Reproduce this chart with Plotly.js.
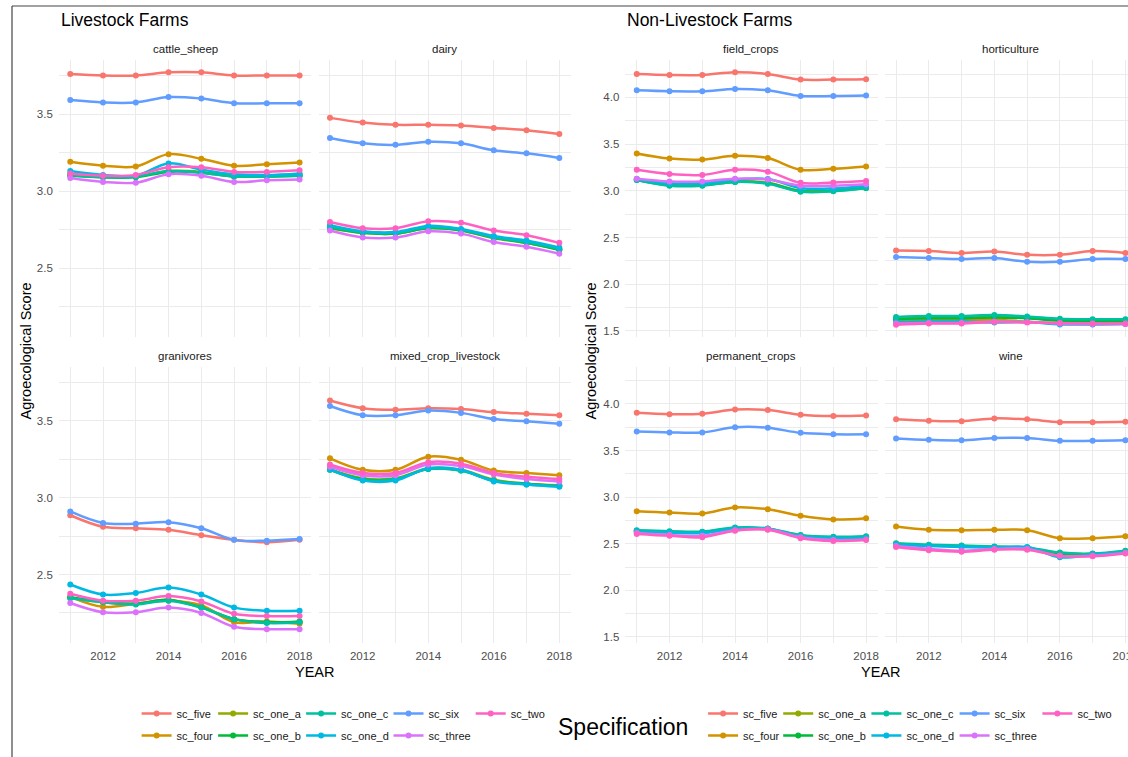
<!DOCTYPE html>
<html><head><meta charset="utf-8">
<script src="https://cdn.plot.ly/plotly-3.0.1.min.js"></script>
<style>html,body{margin:0;padding:0;background:#fff;overflow:hidden}#chart{width:1128px;height:757px}</style>
</head><body><div id="chart"></div>
<script>
// ---------------- DATA ----------------
const years = [2011, 2012, 2013, 2014, 2015, 2016, 2017, 2018];
const series = ['sc_five','sc_four','sc_one_a','sc_one_b','sc_one_c','sc_one_d','sc_six','sc_three','sc_two'];
const livestockFacets = ['cattle_sheep','dairy','granivores','mixed_crop_livestock'];
const nonLivestockFacets = ['field_crops','horticulture','permanent_crops','wine'];
const xTickLabels = ['', '2012', '', '2014', '', '2016', '', '2018'];
const yTicksLivestock = [2.25, 2.5, 2.75, 3.0, 3.25, 3.5, 3.75];
const yTicksNonLivestock = [1.5, 1.75, 2.0, 2.25, 2.5, 2.75, 3.0, 3.25, 3.5, 3.75, 4.0, 4.25];

// rows follow the order of `series`
const cattle_sheep = [
  [3.76,3.75,3.75,3.77,3.77,3.75,3.75,3.75],
  [3.19,3.165,3.16,3.24,3.21,3.165,3.175,3.185],
  [3.11,3.095,3.095,3.13,3.125,3.10,3.10,3.105],
  [3.10,3.09,3.09,3.125,3.12,3.095,3.095,3.10],
  [3.105,3.09,3.095,3.13,3.12,3.095,3.095,3.10],
  [3.13,3.105,3.10,3.18,3.14,3.11,3.105,3.115],
  [3.59,3.575,3.575,3.61,3.60,3.57,3.57,3.57],
  [3.085,3.06,3.055,3.11,3.10,3.06,3.07,3.075],
  [3.115,3.10,3.105,3.155,3.155,3.125,3.125,3.135]
];
const dairy = [
  [3.475,3.445,3.43,3.43,3.425,3.41,3.395,3.37],
  [2.765,2.735,2.73,2.765,2.75,2.70,2.67,2.625],
  [2.76,2.73,2.725,2.76,2.745,2.695,2.665,2.62],
  [2.765,2.73,2.725,2.76,2.745,2.70,2.665,2.62],
  [2.77,2.735,2.73,2.765,2.75,2.70,2.67,2.625],
  [2.78,2.74,2.735,2.775,2.755,2.71,2.68,2.635],
  [3.345,3.31,3.30,3.32,3.31,3.265,3.245,3.215],
  [2.745,2.70,2.70,2.74,2.725,2.67,2.64,2.595],
  [2.80,2.76,2.76,2.805,2.795,2.745,2.715,2.665]
];
const granivores = [
  [2.885,2.81,2.80,2.79,2.755,2.725,2.71,2.725],
  [2.355,2.29,2.31,2.33,2.30,2.19,2.195,2.18],
  [2.35,2.32,2.31,2.335,2.29,2.21,2.19,2.19],
  [2.35,2.325,2.31,2.335,2.285,2.21,2.19,2.195],
  [2.345,2.32,2.305,2.33,2.285,2.21,2.185,2.19],
  [2.435,2.37,2.38,2.415,2.37,2.285,2.265,2.265],
  [2.91,2.835,2.83,2.84,2.80,2.725,2.72,2.73],
  [2.315,2.255,2.255,2.285,2.25,2.16,2.145,2.145],
  [2.375,2.33,2.33,2.36,2.325,2.245,2.23,2.23]
];
const mixed_crop_livestock = [
  [3.63,3.58,3.57,3.58,3.575,3.555,3.545,3.535],
  [3.255,3.18,3.18,3.265,3.245,3.175,3.16,3.145],
  [3.185,3.125,3.125,3.19,3.18,3.115,3.09,3.08],
  [3.18,3.12,3.12,3.185,3.175,3.11,3.09,3.075],
  [3.18,3.115,3.12,3.185,3.175,3.11,3.085,3.075],
  [3.185,3.11,3.11,3.19,3.18,3.105,3.085,3.07],
  [3.595,3.535,3.535,3.565,3.55,3.51,3.495,3.48],
  [3.20,3.145,3.145,3.215,3.205,3.15,3.12,3.105],
  [3.215,3.16,3.16,3.23,3.22,3.16,3.135,3.12]
];
const field_crops = [
  [4.25,4.24,4.24,4.27,4.25,4.19,4.19,4.195],
  [3.40,3.345,3.335,3.375,3.35,3.225,3.235,3.26],
  [3.12,3.065,3.065,3.10,3.085,3.00,3.005,3.035],
  [3.115,3.06,3.06,3.095,3.08,2.995,3.0,3.03],
  [3.115,3.055,3.055,3.095,3.075,2.99,2.995,3.03],
  [3.125,3.08,3.08,3.12,3.125,3.03,3.025,3.055],
  [4.075,4.065,4.065,4.09,4.075,4.015,4.015,4.02],
  [3.13,3.10,3.10,3.13,3.12,3.055,3.055,3.07],
  [3.225,3.18,3.17,3.225,3.205,3.085,3.09,3.105]
];
const horticulture = [
  [2.36,2.355,2.335,2.35,2.315,2.315,2.355,2.335],
  [1.615,1.615,1.615,1.62,1.60,1.585,1.585,1.585],
  [1.63,1.64,1.64,1.65,1.64,1.615,1.61,1.61],
  [1.625,1.635,1.635,1.645,1.635,1.61,1.605,1.605],
  [1.65,1.66,1.66,1.67,1.655,1.63,1.625,1.625],
  [1.595,1.60,1.60,1.59,1.595,1.57,1.57,1.575],
  [2.29,2.28,2.27,2.28,2.24,2.24,2.27,2.27],
  [1.58,1.585,1.585,1.60,1.595,1.58,1.575,1.575],
  [1.565,1.58,1.58,1.595,1.59,1.585,1.58,1.58]
];
const permanent_crops = [
  [3.905,3.89,3.895,3.94,3.935,3.885,3.87,3.875],
  [2.85,2.835,2.825,2.89,2.87,2.80,2.76,2.775],
  [2.64,2.63,2.625,2.67,2.66,2.59,2.57,2.575],
  [2.635,2.625,2.62,2.665,2.655,2.585,2.565,2.57],
  [2.645,2.635,2.63,2.675,2.665,2.595,2.575,2.58],
  [2.63,2.62,2.615,2.66,2.66,2.58,2.56,2.565],
  [3.705,3.695,3.695,3.75,3.745,3.69,3.675,3.675],
  [2.615,2.595,2.585,2.645,2.655,2.57,2.54,2.545],
  [2.605,2.585,2.57,2.64,2.65,2.56,2.53,2.54]
];
const wine = [
  [3.835,3.82,3.815,3.845,3.835,3.805,3.805,3.81],
  [2.685,2.65,2.645,2.65,2.645,2.56,2.56,2.58],
  [2.50,2.485,2.475,2.465,2.455,2.40,2.39,2.42],
  [2.495,2.48,2.47,2.465,2.455,2.395,2.39,2.415],
  [2.505,2.49,2.48,2.47,2.46,2.405,2.395,2.425],
  [2.49,2.475,2.465,2.46,2.465,2.355,2.385,2.41],
  [3.63,3.615,3.61,3.635,3.635,3.605,3.605,3.61],
  [2.475,2.445,2.425,2.445,2.445,2.37,2.37,2.40],
  [2.465,2.43,2.415,2.435,2.435,2.37,2.365,2.395]
];

// ---------------- STYLE / LAYOUT ----------------
const colors = ['#F8766D','#D39200','#93AA00','#00BA38','#00C19F','#00B9E3','#619CFF','#DB72FB','#FF61C3'];
const legendColumn = [1,1,2,2,3,3,4,4,5];
const W = 1128, H = 757;
const FONT = 'Liberation Sans, Arial, sans-serif';
const facetData = [cattle_sheep, dairy, granivores, mixed_crop_livestock,
                   field_crops, horticulture, permanent_crops, wine];
const facetNames = livestockFacets.concat(nonLivestockFacets);

// pixel boxes of panels [x0,x1,y0,y1]
const pxPerYear = 32.76;
const panels = [
  [58.8, 311.2, 60, 337], [318.5, 570.9, 60, 337],
  [58.8, 311.2, 366.7, 643], [318.5, 570.9, 366.7, 643],
  [625.3, 877.5, 60, 337], [884.6, 1128, 60, 337],
  [625.3, 877.5, 366.7, 643], [884.6, 1128, 366.7, 643]
];
const yRangeL = [2.055, 3.85], yRangeR = [1.435, 4.40];
const yLabel = v => (Math.abs(v * 2 - Math.round(v * 2)) < 1e-9) ? v.toFixed(1) : '';

const traces = [];
const layout = {
  width: W, height: H,
  margin: {l:0, r:0, t:0, b:0},
  paper_bgcolor: '#fff', plot_bgcolor: '#fff',
  font: {family: FONT, color: '#1A1A1A'},
  hovermode: false, dragmode: false,
  annotations: [], shapes: []
};

facetNames.forEach((fname, f) => {
  const [x0, x1, y0, y1] = panels[f];
  const idx = f + 1;
  const sfx = idx === 1 ? '' : String(idx);
  const right = f >= 4;
  const bottom = (f % 4) >= 2;
  const leftCol = (f % 2) === 0;
  const xStart = 2010.65;
  const xEnd = xStart + (x1 - x0) / pxPerYear;
  layout['xaxis' + sfx] = {
    domain: [x0 / W, x1 / W], range: [xStart, xEnd], anchor: 'y' + sfx,
    tickmode: 'array', tickvals: years, ticktext: xTickLabels,
    showticklabels: bottom, ticks: '', showline: false, zeroline: false,
    showgrid: true, gridcolor: '#EBEBEB', gridwidth: 1,
    tickfont: {family: FONT, size: 11.5, color: '#4D4D4D'},
    ticklabelstandoff: 4, ticklabeloverflow: 'allow', fixedrange: true
  };
  const yt = right ? yTicksNonLivestock : yTicksLivestock;
  layout['yaxis' + sfx] = {
    domain: [1 - y1 / H, 1 - y0 / H], range: right ? yRangeR : yRangeL, anchor: 'x' + sfx,
    tickmode: 'array', tickvals: yt, ticktext: yt.map(yLabel),
    showticklabels: leftCol, ticks: '', showline: false, zeroline: false,
    showgrid: true, gridcolor: '#EBEBEB', gridwidth: 1,
    tickfont: {family: FONT, size: 11.5, color: '#4D4D4D'},
    ticklabelstandoff: 5, fixedrange: true
  };
  // facet strip label
  layout.annotations.push({
    text: fname, xref: 'paper', yref: 'paper', showarrow: false,
    x: ((x0 + (right && !leftCol ? 1136.8 : x1)) / 2) / W,
    y: 1 - (y0 - 11) / H, xanchor: 'center', yanchor: 'middle',
    font: {family: FONT, size: 11.5, color: '#1A1A1A'}
  });
  const data = facetData[f];
  series.forEach((s, k) => {
    const col = legendColumn[k];
    const legId = right ? 'legend' + (5 + col) : (col === 1 ? 'legend' : 'legend' + col);
    traces.push({
      type: 'scatter', mode: 'lines+markers',
      x: years, y: data[k], name: s,
      xaxis: 'x' + sfx, yaxis: 'y' + sfx,
      line: {color: colors[k], width: 2.5, shape: 'spline', smoothing: 1},
      marker: {color: colors[k], size: 6},
      legendgroup: (right ? 'R_' : 'L_') + s,
      showlegend: (f % 4) === 0,
      legend: legId,
      hoverinfo: 'skip'
    });
  });
});

// legends (one per column of keys)
const legendTextX = [176.6, 253.1, 341.1, 428.5, 510.7, 743.1, 818.2, 906.4, 994.6, 1077.4];
legendTextX.forEach((tx, i) => {
  const key = i === 0 ? 'legend' : 'legend' + (i + 1);
  layout[key] = {
    x: (tx - 40) / W, xanchor: 'left', y: 1 - 699 / H, yanchor: 'top',
    orientation: 'v', bgcolor: 'rgba(0,0,0,0)', borderwidth: 0,
    font: {family: FONT, size: 11, color: '#1A1A1A'},
    tracegroupgap: 3, itemwidth: 30, traceorder: 'grouped', itemclick: false, itemdoubleclick: false
  };
});

// titles & axis titles
const ann = layout.annotations;
ann.push({text: 'Livestock Farms', xref:'paper', yref:'paper', x: 59/W, y: 1 - 20/H, xanchor:'left', yanchor:'middle', showarrow:false, font:{family:FONT, size:17.5, color:'#000'}});
ann.push({text: 'Non-Livestock Farms', xref:'paper', yref:'paper', x: 625/W, y: 1 - 20/H, xanchor:'left', yanchor:'middle', showarrow:false, font:{family:FONT, size:17.5, color:'#000'}});
ann.push({text: 'Agroecological Score', xref:'paper', yref:'paper', x: 25/W, y: 1 - 351.5/H, textangle:-90, xanchor:'center', yanchor:'middle', showarrow:false, font:{family:FONT, size:14.5, color:'#000'}});
ann.push({text: 'Agroecological Score', xref:'paper', yref:'paper', x: 590/W, y: 1 - 351.5/H, textangle:-90, xanchor:'center', yanchor:'middle', showarrow:false, font:{family:FONT, size:14.5, color:'#000'}});
ann.push({text: 'YEAR', xref:'paper', yref:'paper', x: 315/W, y: 1 - 672/H, xanchor:'center', yanchor:'middle', showarrow:false, font:{family:FONT, size:14.5, color:'#000'}});
ann.push({text: 'YEAR', xref:'paper', yref:'paper', x: 881/W, y: 1 - 672/H, xanchor:'center', yanchor:'middle', showarrow:false, font:{family:FONT, size:14.5, color:'#000'}});
ann.push({text: 'Specification', xref:'paper', yref:'paper', x: 622.5/W, y: 1 - 727/H, xanchor:'center', yanchor:'middle', showarrow:false, font:{family:FONT, size:23, color:'#000'}});

// frame lines
layout.shapes.push({type:'line', xref:'paper', yref:'paper', x0: 12/W, x1: 12/W, y0: 0, y1: 1 - 6/H, line:{color:'#444', width:1.2}});
layout.shapes.push({type:'line', xref:'paper', yref:'paper', x0: 12/W, x1: 1, y0: 1 - 6/H, y1: 1 - 6/H, line:{color:'#444', width:1.2}});

Plotly.newPlot('chart', traces, layout, {displayModeBar: false, responsive: false});
</script></body></html>
